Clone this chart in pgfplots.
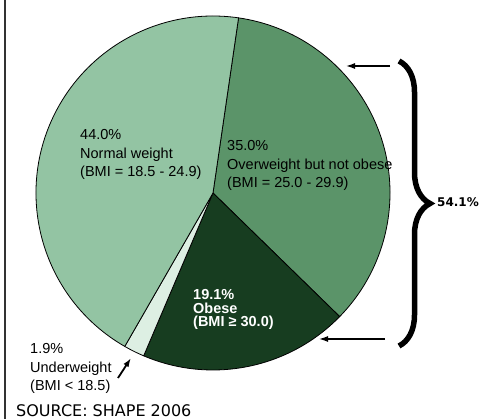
\documentclass[border=0pt]{standalone}
\usepackage{pgfplots}
\pgfplotsset{compat=1.18}
\usepackage{pgfplotstable}
\usetikzlibrary{arrows.meta,decorations.pathreplacing}
\usepackage{fontspec}
\setmainfont{Liberation Sans}
\newfontfamily\srcfont{DejaVu Sans}

\definecolor{normalc}{HTML}{93C4A3}
\definecolor{overc}{HTML}{5B9469}
\definecolor{obesec}{HTML}{173D20}
\definecolor{underc}{HTML}{DDEFE3}
\definecolor{edgegray}{HTML}{333333}

% BMI categories, clockwise from the top of the pie
\pgfplotstableread{
share color
35.0  overc
19.1  obesec
1.9   underc
44.0  normalc
}\bmitable

\begin{document}
\begin{tikzpicture}
\begin{axis}[
  scale only axis, width=480pt, height=419pt,
  xmin=0, xmax=480, ymin=0, ymax=419,
  enlargelimits=false, hide axis, clip=false]

  % pie slices
  \def\startang{81.7}
  \pgfplotsforeachungrouped \i in {0,...,3}{%
    \pgfplotstablegetelem{\i}{share}\of\bmitable \let\sharev=\pgfplotsretval
    \pgfplotstablegetelem{\i}{color}\of\bmitable \let\colv=\pgfplotsretval
    \pgfmathsetmacro\endang{\startang - 3.6*\sharev}%
    \edef\temp{\noexpand\filldraw[fill=\colv, draw=black, line width=0.8pt, line join=round]
      (axis cs:213,226) -- ++(\startang:177pt)
      arc[start angle=\startang, end angle=\endang, radius=177pt] -- cycle;}%
    \temp
    \global\let\startang\endang
  }

  % slice labels
  \begin{scope}[every node/.style={anchor=base west, inner sep=0pt, font=\fontsize{14.5}{16}\selectfont}]
    \node at (axis cs:80,279)   {44.0\%};
    \node at (axis cs:80,260.5) {Normal weight};
    \node at (axis cs:80,242)   {(BMI = 18.5 - 24.9)};

    \node at (axis cs:227,268)   {35.0\%};
    \node at (axis cs:227,249.5) {Overweight but not obese};
    \node at (axis cs:227,231)   {(BMI = 25.0 - 29.9)};

    \node[text=white, font=\fontsize{14.5}{16}\selectfont\bfseries] at (axis cs:193,119)   {19.1\%};
    \node[text=white, font=\fontsize{14.5}{16}\selectfont\bfseries] at (axis cs:193,105.5) {Obese};
    \node[text=white, font=\fontsize{14.5}{16}\selectfont\bfseries] at (axis cs:193,92)    {(BMI ≥ 30.0)};

    \node at (axis cs:30,65)   {1.9\%};
    \node at (axis cs:30,46.5) {Underweight};
    \node at (axis cs:30,28)   {(BMI < 18.5)};
  \end{scope}

  % pointer arrows
  \draw[-{Latex[length=9pt,width=6pt]}, line width=1.3pt] (axis cs:390,353) -- (axis cs:346,353);
  \draw[-{Latex[length=9pt,width=6pt]}, line width=1.3pt] (axis cs:385,80) -- (axis cs:319,80);
  \draw[-{Latex[length=9pt,width=6pt]}, line width=1.8pt] (axis cs:118,41) -- (axis cs:131,61);

  % brace grouping overweight and obese
  \draw[decorate, decoration={brace, amplitude=31pt, aspect=0.5}, line width=5.5pt]
    (axis cs:399,358) -- (axis cs:399,73);
  \node[anchor=base west, inner sep=0pt, font=\srcfont\bfseries\fontsize{12}{14}\selectfont]
    at (axis cs:437,212) {54.1\%};

  % source line and left rule
  \node[anchor=base west, inner sep=0pt, font=\srcfont\fontsize{16}{18}\selectfont]
    at (axis cs:16,2.5) {SOURCE: SHAPE 2006};
  \draw[edgegray, line width=2.5pt] (axis cs:5,0) -- (axis cs:5,419);
\end{axis}
\pgfresetboundingbox
\useasboundingbox (current axis.south west) rectangle (current axis.north east);
\end{tikzpicture}
\end{document}
